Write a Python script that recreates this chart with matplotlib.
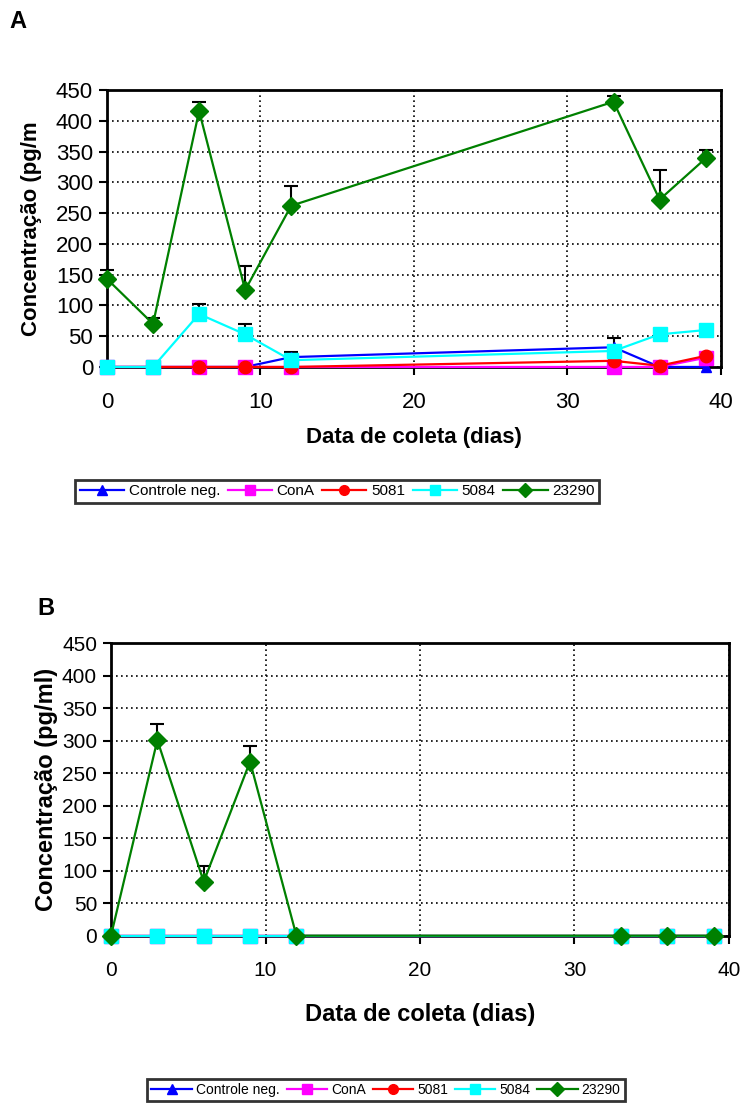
import numpy as np
import matplotlib.pyplot as plt
from matplotlib import font_manager

dias = [0, 3, 6, 9, 12, 33, 36, 39]
series = ["Controle neg.", "ConA", "5081", "5084", "23290"]

# painel A
a_controle = [0, 0, 0, 0, 16, 32, 0, 0]
a_cona = [0, 0, 0, 0, 0, 0, 0, 15]
a_5081 = [0, 0, 0, 0, 0, 10, 2, 18]
a_5084 = [0, 0, 86, 53, 11, 26, 53, 60]
a_23290 = [143, 70, 416, 125, 262, 431, 272, 339]
a_err_controle = [0, 0, 0, 0, 9, 15, 0, 0]
a_err_5084 = [0, 0, 16, 17, 0, 0, 0, 0]
a_err_23290 = [15, 9, 15, 39, 32, 10, 48, 13]

# painel B
b_controle = [0, 0, 0, 0, 0, 0, 0, 0]
b_cona = [0, 0, 0, 0, 0, 0, 0, 0]
b_5081 = [0, 0, 0, 0, 0, 0, 0, 0]
b_5084 = [0, 0, 0, 0, 0, 0, 0, 0]
b_23290 = [0, 301, 83, 268, 0, 0, 0, 0]
b_err_23290 = [0, 25, 24, 24, 0, 0, 0, 0]

cores = ["#0000FF", "#FF00FF", "#FF0000", "#00FFFF", "#008000"]
marcadores = ["^", "s", "o", "s", "D"]
tamanhos = [7, 10, 9, 10, 9]

installed = {f.name for f in font_manager.fontManager.ttflist}
fonte_a = "Liberation Sans"
fonte_b = "Liberation Sans Narrow" if "Liberation Sans Narrow" in installed else "Liberation Sans"

fig = plt.figure(figsize=(7.41, 11.09), dpi=100)


def painel(rect, valores, erros, fonte, ylabel, letra, letra_pos, leg_pos,
           tick_fs, lab_fs, leg_fs, ylab_pad, xlab_pad):
    ax = fig.add_axes(rect)
    x = np.array(dias)
    for vals, err in zip(valores, erros):
        if err is None:
            continue
        ax.errorbar(x, vals, yerr=[np.zeros(len(x)), err], fmt="none", ecolor="black",
                    elinewidth=1.5, capsize=5, capthick=1.5, zorder=2, clip_on=False)
    linhas = []
    for i, vals in enumerate(valores):
        ln, = ax.plot(x, vals, color=cores[i], marker=marcadores[i], markersize=tamanhos[i],
                      markeredgecolor=cores[i], lw=1.6, zorder=3 + i, clip_on=False,
                      label=series[i])
        linhas.append(ln)
    ax.set_xlim(0, 40)
    ax.set_ylim(0, 450)
    ax.set_xticks([0, 10, 20, 30, 40])
    ax.set_yticks(range(0, 451, 50))
    ax.grid(True, color="black", linestyle=(0, (1, 2)), linewidth=1.2)
    ax.set_axisbelow(True)
    for s in ax.spines.values():
        s.set_linewidth(2)
        s.set_zorder(2.5)
    ax.tick_params(direction="out", length=6, width=1.5, pad=4)
    ax.tick_params(axis="x", pad=12)
    for t in ax.get_xticklabels() + ax.get_yticklabels():
        t.set_fontfamily(fonte)
        t.set_fontsize(tick_fs)
    ax.set_xlabel("Data de coleta (dias)", fontfamily=fonte, fontsize=lab_fs,
                  fontweight="bold", labelpad=xlab_pad)
    ax.set_ylabel(ylabel, fontfamily=fonte, fontsize=lab_fs, fontweight="bold",
                  labelpad=ylab_pad)
    fig.text(letra_pos[0], letra_pos[1], letra, fontfamily="Liberation Sans", fontsize=17,
             fontweight="bold", ha="left", va="top")
    leg = fig.legend(handles=linhas, loc="center", bbox_to_anchor=leg_pos, ncol=5,
                     frameon=True, fancybox=False, edgecolor="black", handlelength=2.9,
                     handletextpad=0.3, columnspacing=0.5, borderpad=0.3,
                     borderaxespad=0, prop={"family": fonte, "size": leg_fs})
    leg.get_frame().set_linewidth(2)
    for h in leg.legend_handles:
        h.set_markersize(7)
    return ax


painel([0.1444, 0.6691, 0.8286, 0.2497],
       [a_controle, a_cona, a_5081, a_5084, a_23290],
       [a_err_controle, None, None, a_err_5084, a_err_23290],
       fonte_a, "Concentração (pg/m", "A", (0.013, 0.991), (0.455, 0.557),
       16, 16, 11, 10, 10)

painel([0.1498, 0.1563, 0.834, 0.2636],
       [b_controle, b_cona, b_5081, b_5084, b_23290],
       [None, None, None, None, b_err_23290],
       fonte_b, "Concentração (pg/ml)", "B", (0.051, 0.462), (0.521, 0.017),
       15, 17, 10, 3, 17)

plt.savefig("out.png", dpi=100)
